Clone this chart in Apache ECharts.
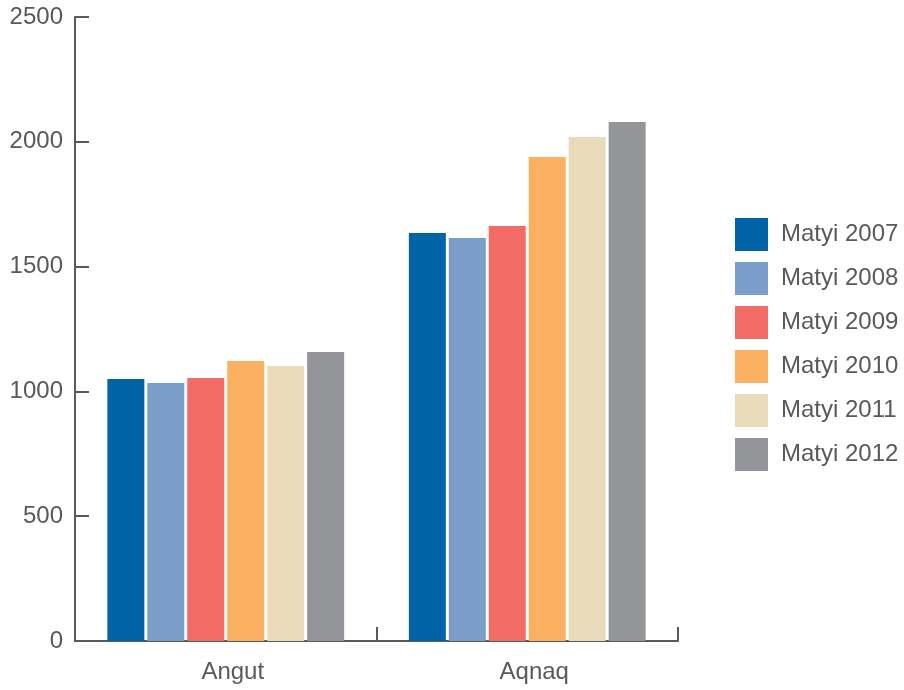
<!DOCTYPE html>
<html>
<head>
<meta charset="utf-8">
<script src="https://cdn.jsdelivr.net/npm/echarts@6/dist/echarts.min.js"></script>
<style>html,body{margin:0;padding:0;background:#fff;}#c{width:904px;height:690px;}</style>
</head>
<body>
<div id="c"></div>
<script>
const categories = ['Angut', 'Aqnaq'];
const seriesNames = ['Matyi 2007', 'Matyi 2008', 'Matyi 2009', 'Matyi 2010', 'Matyi 2011', 'Matyi 2012'];
const matyi2007 = [1050, 1635];
const matyi2008 = [1034, 1615];
const matyi2009 = [1054, 1663];
const matyi2010 = [1122, 1939];
const matyi2011 = [1102, 2019];
const matyi2012 = [1158, 2079];
const colors = ['#0063a6', '#7a9dc9', '#f26b64', '#fbb062', '#e9dbb9', '#939598'];

const values = [matyi2007, matyi2008, matyi2009, matyi2010, matyi2011, matyi2012];
const chart = echarts.init(document.getElementById('c'));
const axisColor = '#595959';
chart.setOption({
  animation: false,
  color: colors,
  textStyle: { fontFamily: 'Liberation Sans, Arial, sans-serif' },
  grid: { left: 75, right: 226, top: 17, bottom: 49, containLabel: false },
  legend: {
    orient: 'vertical', left: 735, top: 218, padding: 0,
    itemWidth: 33, itemHeight: 33, itemGap: 11,
    icon: 'rect',
    textStyle: { fontSize: 24, color: axisColor, padding: [0, 0, 6, 8] },
    data: seriesNames
  },
  xAxis: {
    type: 'category', data: categories,
    axisLine: { lineStyle: { color: axisColor, width: 2 } },
    axisTick: { show: true, inside: true, length: 14, lineStyle: { color: axisColor, width: 2 } },
    axisLabel: { fontSize: 24, color: axisColor, margin: 19, padding: [0, 0, 0, 14] },
    splitLine: { show: false }
  },
  yAxis: {
    type: 'value', min: 0, max: 2500, interval: 500,
    axisLine: { show: true, lineStyle: { color: axisColor, width: 2 } },
    axisTick: { show: true, inside: true, length: 14, lineStyle: { color: axisColor, width: 2 } },
    axisLabel: { fontSize: 24, color: axisColor, margin: 12, padding: [4, 0, 0, 0], formatter: v => String(v) },
    splitLine: { show: false }
  },
  series: seriesNames.map((n, i) => ({
    name: n, type: 'bar', data: values[i],
    barWidth: 37, barGap: '8%', barCategoryGap: '21%'
  }))
});
</script>
</body>
</html>
